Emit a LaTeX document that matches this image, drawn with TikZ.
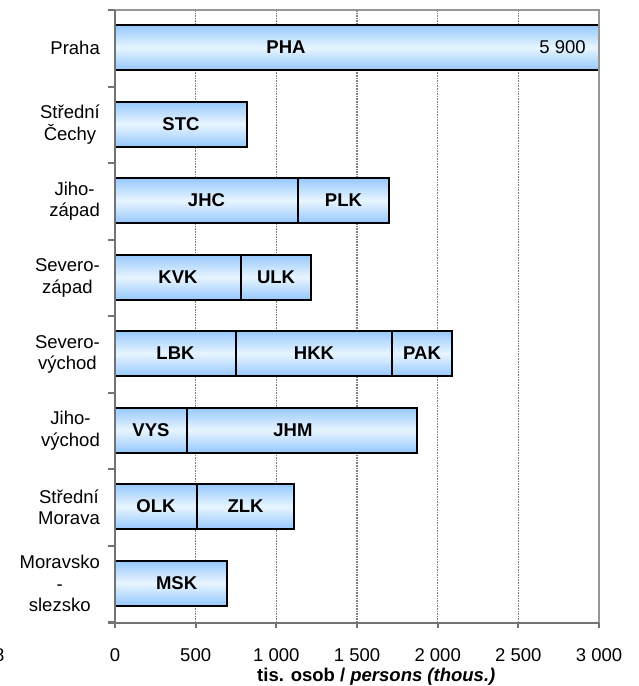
\documentclass[tikz,border=0pt]{standalone}
\usepackage{fontspec}
\setmainfont{Liberation Sans}
\definecolor{barblue}{RGB}{150,200,252}
\definecolor{barlight}{RGB}{232,245,255}
\definecolor{axisgray}{RGB}{115,115,115}
\definecolor{framegray}{RGB}{150,150,150}
\definecolor{gridgray}{RGB}{125,125,125}
\tikzstyle{seg}=[draw=black,line width=2pt,top color=barblue,bottom color=barblue,middle color=barlight]
\tikzstyle{gridline}=[gridgray,densely dotted,line width=1.6pt]
\tikzstyle{axisline}=[axisgray,line width=2pt]
\tikzstyle{frameline}=[framegray,line width=2pt]
\tikzstyle{catlbl}=[anchor=east,align=center,inner sep=0pt]
\tikzstyle{seglbl}=[inner sep=0pt]

\begin{document}
\begin{tikzpicture}[x=1pt,y=-1pt,font=\fontsize{18.5}{21.5}\selectfont]
  \useasboundingbox (0,0) rectangle (638,686);

  % plot area variables
  \def\top{10}
  \def\bot{622.5}
  \def\row{76.5}
  \def\half{22.5}

  \begin{scope}[xshift=115pt,x=0.161333pt]
    % grid and frame
    \foreach \v in {500,1000,...,2500}
      \draw[gridline] (\v,\top) -- (\v,\bot);
    \draw[frameline] (0,\top) -- (3000,\top) -- (3000,\bot);

    % Praha bar, cut off at the frame
    \begin{scope}
      \clip (-20,\top) rectangle (3000,\bot);
      \draw[seg] (0,47.5-\half) rectangle (3100,47.5+\half);
    \end{scope}
    \draw[frameline] (3000,\top) -- (3000,\bot);
    \node[seglbl] (segPHA) at (1060,47.5) {\bfseries PHA};
    \node[anchor=east,inner sep=0pt] (valPHA) at (2919,47.5) {5~900};

    % other bars
    \foreach \r/\nm/\a/\b/\dx in {1/STC/0/818/0, 2/JHC/0/1134/0, 2/PLK/1134/1698/0,
        3/KVK/0/781/0, 3/ULK/781/1215/0, 4/LBK/0/750/0, 4/HKK/750/1717/0,
        4/PAK/1717/2089/0, 5/VYS/0/446/0, 5/JHM/446/1872/-56, 6/OLK/0/508/0,
        6/ZLK/508/1110/0, 7/MSK/0/696/34} {
      \pgfmathsetmacro\yc{\top+\row*(\r+0.5)-0.7}
      \draw[seg] (\a,\yc-\half) rectangle (\b,\yc+\half);
      \node[seglbl] (seg\nm) at ({(\a+\b)/2+\dx},\yc) {\bfseries\nm};
    }

    % axes
    \draw[axisline] (0,\top) -- (0,\bot);
    \foreach \k in {0,...,8}
      \draw[axisline] (-43,\top+\row*\k) -- (0,\top+\row*\k);
    \draw[axisline] (-43,\bot) -- (3000,\bot);
    \foreach \v/\t in {0/0,500/500,1000/{1~000},1500/{1~500},2000/{2~000},2500/{2~500},3000/{3~000}} {
      \draw[axisline] (\v,\bot) -- (\v,628);
      \node[anchor=base,inner sep=0pt] (tick\v) at (\v,661) {\t};
    }
  \end{scope}

  % category labels
  \foreach \r/\txt in {0/Praha, 1/{Střední\\Čechy}, 2/{Jiho-\\západ}, 3/{Severo-\\západ},
      4/{Severo-\\východ}, 5/{Jiho-\\východ}, 6/{Střední\\Morava}, 7/{Moravsko\\-\\slezsko}}
    \node[catlbl] (cat\r) at (100,{\top+\row*(\r+0.5)}) {\txt};

  % axis title
  \node[anchor=base west,inner sep=0pt] (xtitle) at (257,681)
    {\bfseries tis. osob / \itshape persons (thous.)};
  \node[anchor=base east,inner sep=0pt] (cut) at (4.5,661) {8};

\end{tikzpicture}
\end{document}
